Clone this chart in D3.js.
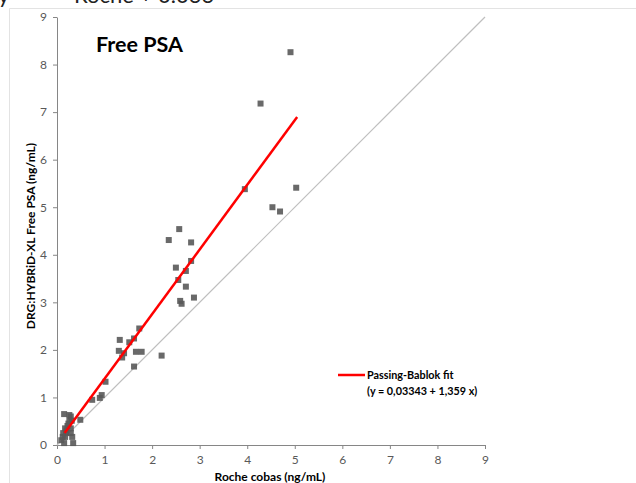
<!DOCTYPE html>
<html>
  <head>
    <meta charset="UTF-8">
    <title>Free PSA</title>
    <style>
    body {
      margin: 0;
      background: #fff;
    }
    svg text {
      font-family: Lato, "Open Sans", sans-serif;
    }
    .tick text {
      font-size: 12px;
      fill: #595959;
    }
    .tick line, .domain {
      stroke: #868686;
    }
    .lbl {
      font-weight: bold;
      font-size: 12px;
      fill: #000;
    }
    .leg {
      font-weight: bold;
      font-size: 10.8px;
      fill: #000;
    }
    </style>
  </head>
  <body>
    <svg width="636" height="483"></svg>
    <script src="https://d3js.org/d3.v7.min.js"></script>
    <script>
// measurements: Roche cobas (x) vs DRG:HYBRiD-XL (y), ng/mL
var rocheX = [4.91, 4.28, 3.95, 5.03, 4.53, 4.69,
              2.57, 2.35, 2.82, 2.82, 2.50, 2.71, 2.55, 2.71, 2.88, 2.59, 2.62,
              1.73, 1.32, 1.62, 1.52, 1.30, 1.41, 1.37, 1.66, 1.78, 2.20, 1.62,
              1.02, 0.74, 0.94, 0.90, 0.49,
              0.15, 0.26, 0.29, 0.26, 0.31, 0.22, 0.17, 0.29, 0.19, 0.13, 0.29,
              0.12, 0.17, 0.15, 0.34, 0.09, 0.32, 0.24, 0.20];
var hybridY = [8.26, 7.18, 5.38, 5.41, 5.00, 4.91,
               4.54, 4.31, 4.26, 3.87, 3.73, 3.66, 3.47, 3.33, 3.10, 3.03, 2.97,
               2.45, 2.21, 2.24, 2.16, 1.98, 1.93, 1.84, 1.96, 1.96, 1.88, 1.65,
               1.33, 0.95, 1.05, 0.99, 0.53,
               0.65, 0.63, 0.60, 0.51, 0.51, 0.40, 0.35, 0.35, 0.26, 0.25, 0.25,
               0.17, 0.17, 0.04, 0.04, 0.10, 0.17, 0.45, 0.30];
var axisTicks = [0, 1, 2, 3, 4, 5, 6, 7, 8, 9];
var fitIntercept = 0.03343,
    fitSlope = 1.359,
    fitRange = [0.16, 5.05];

var svg = d3.select("svg");

var x = d3.scaleLinear().domain([0, 9]).range([57, 485]),
    y = d3.scaleLinear().domain([0, 9]).range([445, 17]);

// faint frame of the pasted chart + cropped equation text above it
svg.append("path")
    .attr("d", "M9.5,483 V8.5 H636")
    .attr("fill", "none")
    .attr("stroke", "#e3e3e3");
svg.append("text")
    .attr("x", -2).attr("y", 3)
    .style("font-size", "22px").style("fill", "#222")
    .text("y");
svg.append("text")
    .attr("x", 74).attr("y", 3)
    .style("font-size", "22px").style("fill", "#222")
    .text("Roche + 0.033");

// axes
svg.append("g")
    .attr("transform", "translate(0," + y(0) + ")")
    .call(d3.axisBottom(x).tickValues(axisTicks).tickSize(4).tickPadding(6).tickSizeOuter(0));
svg.append("g")
    .attr("transform", "translate(" + x(0) + ",0)")
    .call(d3.axisLeft(y).tickValues(axisTicks).tickSize(4).tickPadding(6).tickSizeOuter(0));

// identity line
svg.append("line")
    .attr("x1", x(0)).attr("y1", y(0))
    .attr("x2", x(9)).attr("y2", y(9))
    .attr("stroke", "#bfbfbf")
    .attr("stroke-width", 1.2);

// data points
svg.append("g").selectAll("rect")
  .data(rocheX.map((d, i) => [d, hybridY[i]]))
  .join("rect")
    .attr("x", d => x(d[0]) - 3)
    .attr("y", d => y(d[1]) - 3)
    .attr("width", 6)
    .attr("height", 6)
    .attr("fill", "#595959")
    .attr("fill-opacity", 0.9);

// Passing-Bablok fit
svg.append("line")
    .attr("x1", x(fitRange[0])).attr("y1", y(fitIntercept + fitSlope * fitRange[0]))
    .attr("x2", x(fitRange[1])).attr("y2", y(fitIntercept + fitSlope * fitRange[1]))
    .attr("stroke", "#ff0000")
    .attr("stroke-width", 2.5);

// title and axis labels
svg.append("text")
    .attr("x", 96).attr("y", 52)
    .style("font-weight", "bold").style("font-size", "21.5px")
    .text("Free PSA");
svg.append("text")
    .attr("class", "lbl")
    .attr("x", 270).attr("y", 481)
    .attr("text-anchor", "middle")
    .text("Roche cobas (ng/mL)");
svg.append("text")
    .attr("class", "lbl")
    .attr("transform", "translate(35,236) rotate(-90)")
    .attr("text-anchor", "middle")
    .text("DRG:HYBRiD-XL Free PSA (ng/mL)");

// legend
svg.append("line")
    .attr("x1", 338).attr("x2", 365)
    .attr("y1", 375).attr("y2", 375)
    .attr("stroke", "#ff0000")
    .attr("stroke-width", 2.5);
svg.append("text")
    .attr("class", "leg")
    .attr("x", 367).attr("y", 379)
    .text("Passing-Bablok fit");
svg.append("text")
    .attr("class", "leg")
    .attr("x", 367).attr("y", 395)
    .text("(y = 0,03343 + 1,359 x)");
    </script>
  </body>
</html>
